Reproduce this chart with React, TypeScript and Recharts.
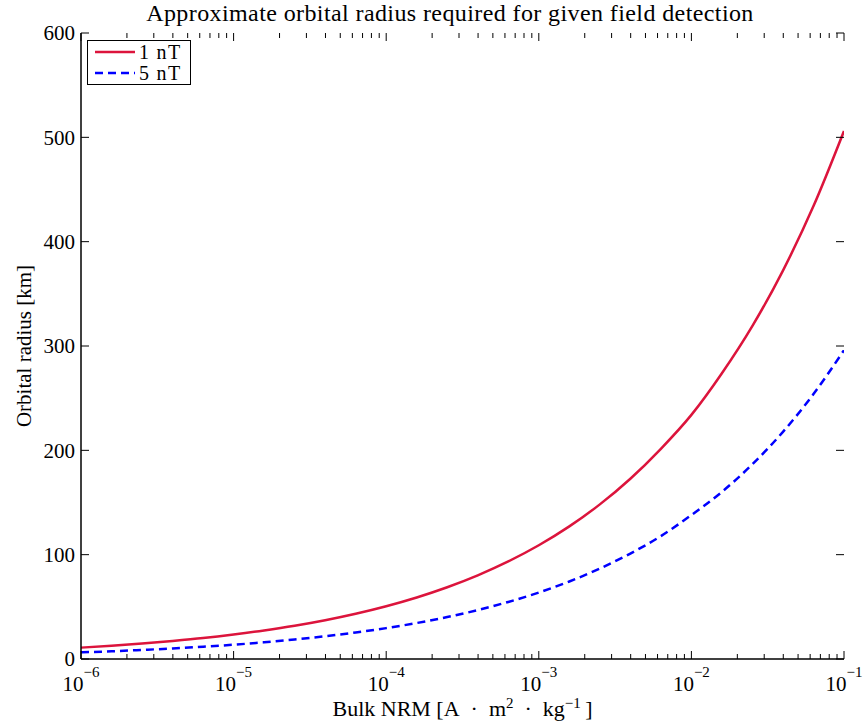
import { Legend, Line, LineChart, XAxis, YAxis } from "recharts"

// bulk NRM sample points (A·m²/kg), 5 per decade
const nrm = [
    1e-6, 1.585e-6, 2.512e-6, 3.981e-6, 6.31e-6,
    1e-5, 1.585e-5, 2.512e-5, 3.981e-5, 6.31e-5,
    1e-4, 1.585e-4, 2.512e-4, 3.981e-4, 6.31e-4,
    1e-3, 1.585e-3, 2.512e-3, 3.981e-3, 6.31e-3,
    1e-2, 1.585e-2, 2.512e-2, 3.981e-2, 6.31e-2,
    1e-1,
]

// orbital radius (km) for 1 nT detection
const radius1nT = [
    10.9, 12.7, 14.8, 17.3, 20.1,
    23.5, 27.4, 31.9, 37.2, 43.4,
    50.6, 59.0, 68.8, 80.2, 93.5,
    109.0, 127.1, 148.2, 172.8, 201.5,
    234.0, 273.9, 319.3, 372.3, 434.1,
    506.1,
]

// orbital radius (km) for 5 nT detection
const radius5nT = [
    6.4, 7.4, 8.7, 10.1, 11.8,
    13.7, 16.0, 18.7, 21.8, 25.4,
    29.6, 34.5, 40.2, 46.9, 54.7,
    63.7, 74.3, 86.7, 101.1, 117.8,
    138.0, 160.2, 186.7, 217.7, 253.9,
    296.0,
]

const decades = [-6, -5, -4, -3, -2, -1]
const yTicks = [0, 100, 200, 300, 400, 500, 600]

const series = [
    { key: "r1", name: "1 nT", color: "#DC143C", dash: undefined },
    { key: "r5", name: "5 nT", color: "#0000FF", dash: "8 5" },
]

const data = nrm.map((x, i) => ({ nrm: x, r1: radius1nT[i], r5: radius5nT[i] }))

// major + minor log ticks
const xTicks: number[] = []
decades.forEach((d) => {
    if (d === decades[decades.length - 1]) xTicks.push(10 ** d)
    else for (let m = 1; m <= 9; m++) xTicks.push(m * 10 ** d)
})

const FONT = "'Liberation Serif', 'DejaVu Serif', serif"
const W = 865
const H = 727
const margin = { top: 33, right: 21, left: 0, bottom: 0 }
const plotTop = margin.top
const plotRight = W - margin.right

const isDecade = (v: number) => {
    const lg = Math.log10(v)
    return Math.abs(lg - Math.round(lg)) < 1e-6
}

// bottom ticks, mirrored on the top edge (matlab box style)
const BottomTick = ({ x, y, payload }: any) => {
    const v = payload.value
    const major = isDecade(v)
    const len = major ? 8 : 5
    const exp = Math.round(Math.log10(v))
    return (
        <g>
            <line x1={x} x2={x} y1={y} y2={y - len} stroke="#000" strokeWidth={1} />
            <line x1={x} x2={x} y1={plotTop} y2={plotTop + len} stroke="#000" strokeWidth={1} />
            {major && (
                <text x={x} y={y + 32} textAnchor="middle" fontSize={21} fill="#000" fontFamily={FONT}>
                    10
                    <tspan dy={-14} fontSize={15}>{"\u2212" + Math.abs(exp)}</tspan>
                </text>
            )}
        </g>
    )
}

const LeftTick = ({ x, y, payload }: any) => (
    <g>
        <line x1={x} x2={x + 8} y1={y} y2={y} stroke="#000" strokeWidth={1} />
        <line x1={plotRight} x2={plotRight - 8} y1={y} y2={y} stroke="#000" strokeWidth={1} />
        <text x={x - 6} y={y} dy="0.35em" textAnchor="end" fontSize={21} fill="#000" fontFamily={FONT}>
            {payload.value}
        </text>
    </g>
)

const LegendBox = () => (
    <div
        style={{
            border: "1.5px solid #000",
            background: "#fff",
            padding: "0 9px 1px 7px",
            fontSize: 20,
            lineHeight: "20px",
            letterSpacing: 1.3,
            fontFamily: FONT,
            color: "#000",
        }}
    >
        {series.map((s) => (
            <div key={s.key} style={{ display: "flex", alignItems: "center", height: 21 }}>
                <svg width={44} height={20} style={{ display: "block" }}>
                    <line x1={0} x2={40} y1={10} y2={10} stroke={s.color} strokeWidth={2.5} strokeDasharray={s.dash} />
                </svg>
                <span>{s.name}</span>
            </div>
        ))}
    </div>
)

export default function App() {
    return (
        <div style={{ position: "absolute", left: 0, top: 0, width: W, height: H, background: "#fff", fontFamily: FONT }}>
            <div
                style={{
                    position: "absolute",
                    left: 0,
                    width: 900,
                    top: 0,
                    textAlign: "center",
                    fontSize: 24,
                    letterSpacing: 0.4,
                    lineHeight: "26px",
                    color: "#000",
                    fontFamily: FONT,
                }}
            >
                Approximate orbital radius required for given field detection
            </div>
            <LineChart width={W} height={H} data={data} margin={margin}>
                <XAxis
                    xAxisId="bottom"
                    dataKey="nrm"
                    type="number"
                    scale="log"
                    domain={[1e-6, 1e-1]}
                    allowDataOverflow
                    ticks={xTicks}
                    interval={0}
                    height={68}
                    tickSize={0}
                    tickMargin={0}
                    tickLine={false}
                    tick={<BottomTick />}
                    axisLine={{ stroke: "#000", strokeWidth: 1.5 }}
                    label={{
                        content: ({ viewBox }: any) => (
                            <text
                                x={viewBox.x + viewBox.width / 2}
                                y={viewBox.y + 57}
                                textAnchor="middle"
                                fontSize={22}
                                fill="#000"
                                fontFamily={FONT}
                            >
                                {"Bulk NRM [A\u2002·\u2002m"}
                                <tspan dy={-8} fontSize={15}>2</tspan>
                                <tspan dy={8}>{"\u2002·\u2002kg"}</tspan>
                                <tspan dy={-8} fontSize={15}>{"\u22121"}</tspan>
                                <tspan dy={8}>{"\u2009]"}</tspan>
                            </text>
                        ),
                    }}
                />
                <XAxis
                    xAxisId="top"
                    orientation="top"
                    dataKey="nrm"
                    type="number"
                    scale="log"
                    domain={[1e-6, 1e-1]}
                    allowDataOverflow
                    height={0}
                    tick={false}
                    tickLine={false}
                    axisLine={{ stroke: "#000", strokeWidth: 1.5 }}
                />
                <YAxis
                    yAxisId="left"
                    type="number"
                    domain={[0, 600]}
                    allowDataOverflow
                    ticks={yTicks}
                    interval={0}
                    width={81}
                    tickSize={0}
                    tickMargin={0}
                    tickLine={false}
                    tick={<LeftTick />}
                    axisLine={{ stroke: "#000", strokeWidth: 1.5 }}
                    label={{
                        content: ({ viewBox }: any) => {
                            const lx = 31
                            const ly = viewBox.y + viewBox.height / 2
                            return (
                                <text
                                    x={lx}
                                    y={ly}
                                    transform={`rotate(-90 ${lx} ${ly})`}
                                    textAnchor="middle"
                                    fontSize={21}
                                    fill="#000"
                                    fontFamily={FONT}
                                >
                                    Orbital radius [km]
                                </text>
                            )
                        },
                    }}
                />
                <YAxis
                    yAxisId="right"
                    orientation="right"
                    type="number"
                    domain={[0, 600]}
                    allowDataOverflow
                    width={0}
                    tick={false}
                    tickLine={false}
                    axisLine={{ stroke: "#000", strokeWidth: 1.5 }}
                />
                <Legend
                    layout="vertical"
                    align="center"
                    verticalAlign="middle"
                    content={<LegendBox />}
                    wrapperStyle={{ top: 40, left: 87, width: "auto", height: "auto" }}
                />
                {/* invisible copy so the mirrored top/right axes get a scale */}
                <Line
                    xAxisId="top"
                    yAxisId="right"
                    dataKey="r1"
                    stroke="none"
                    legendType="none"
                    dot={false}
                    activeDot={false}
                    isAnimationActive={false}
                />
                {series.map((s) => (
                    <Line
                        key={s.key}
                        xAxisId="bottom"
                        yAxisId="left"
                        dataKey={s.key}
                        name={s.name}
                        type="monotone"
                        stroke={s.color}
                        strokeWidth={2.5}
                        strokeDasharray={s.dash}
                        dot={false}
                        activeDot={false}
                        isAnimationActive={false}
                    />
                ))}
            </LineChart>
        </div>
    )
}
